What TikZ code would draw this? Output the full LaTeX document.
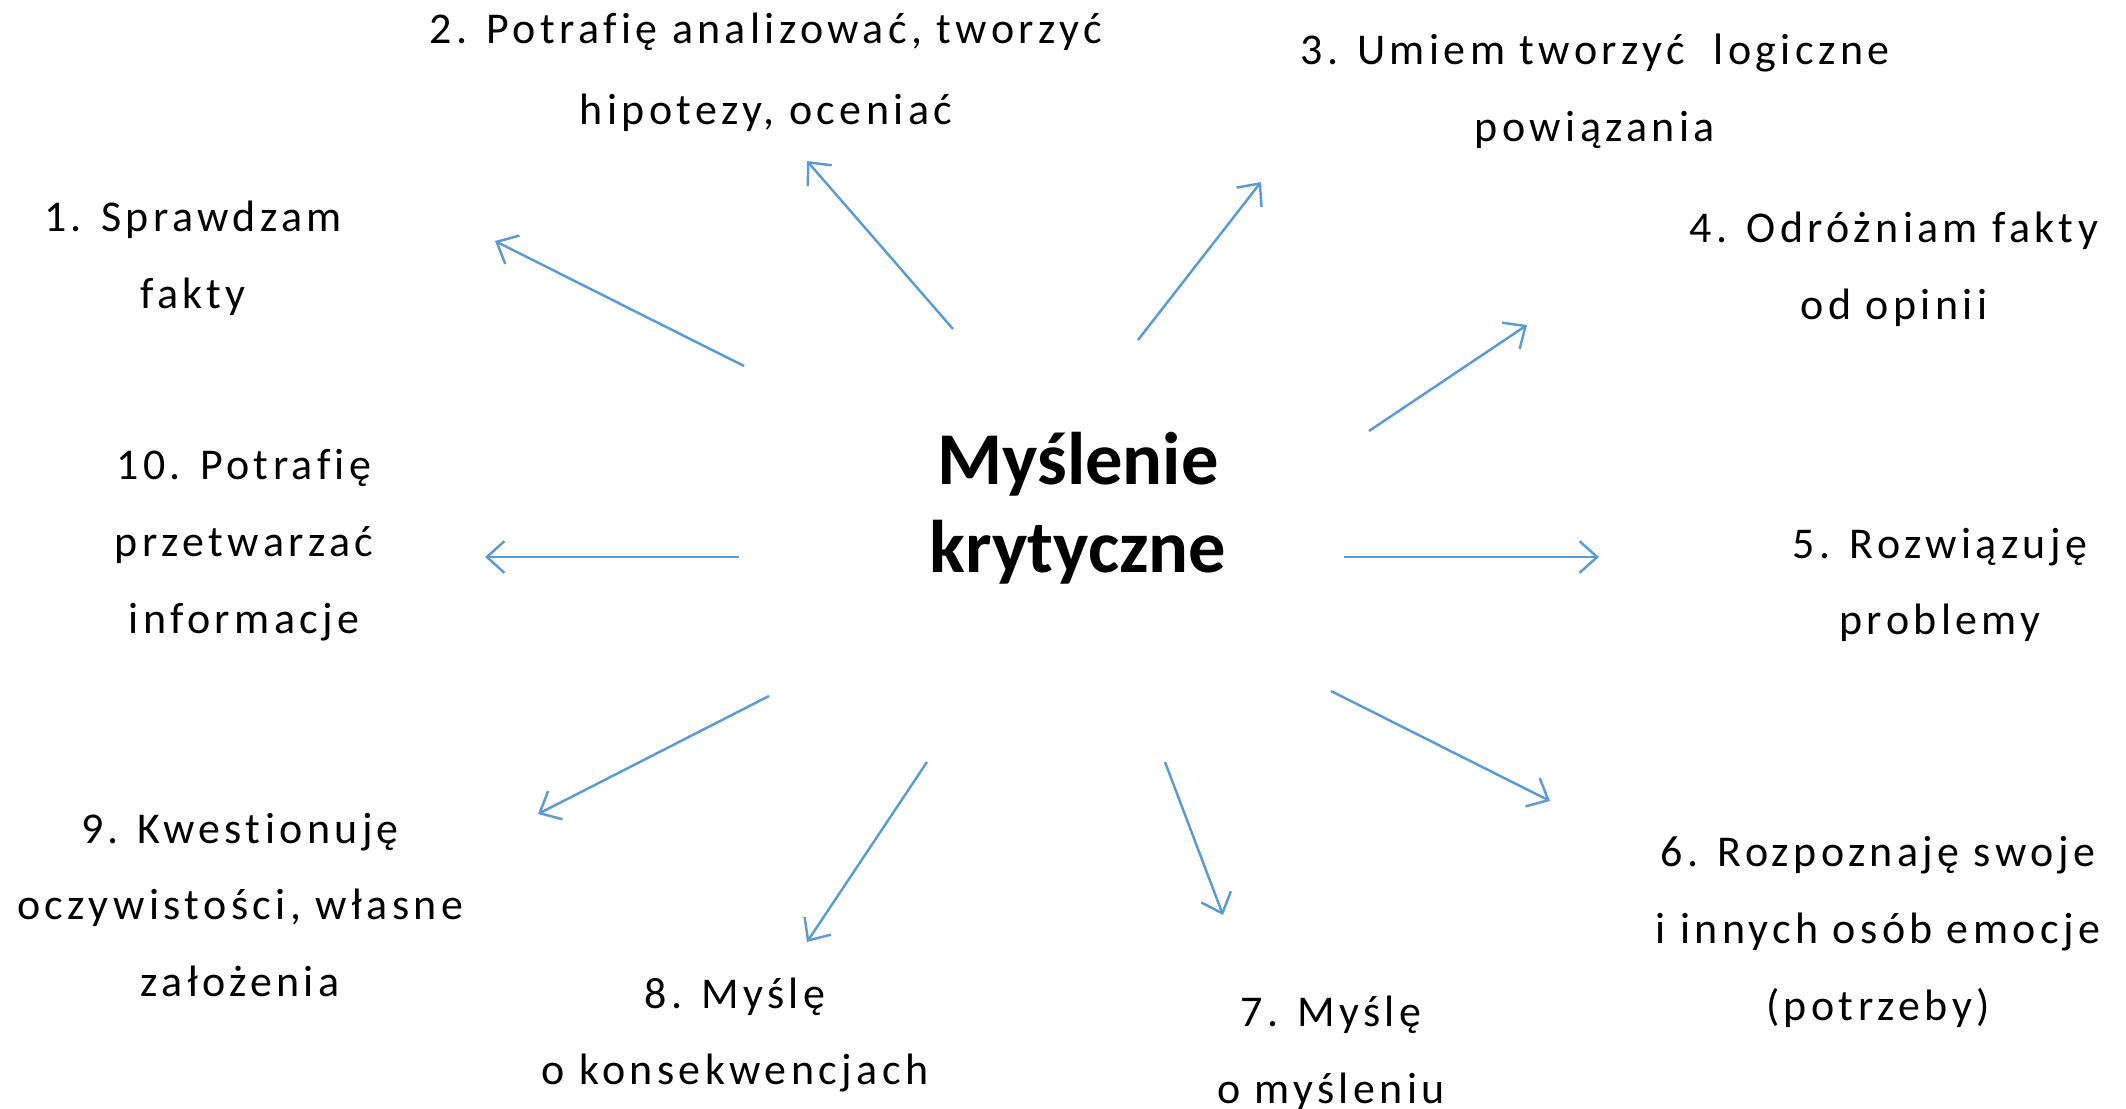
\documentclass[tikz,border=0pt]{standalone}
\usepackage{fontspec}
\setmainfont{Carlito}
\newfontfamily\skillfont[LetterSpace=10, Ligatures=CommonOff]{Carlito}
\usetikzlibrary{arrows.meta}
\definecolor{arrowblue}{RGB}{91,155,213}
\tikzset{
	point/.style={draw=arrowblue, line width=0.7pt, -{Straight Barb[length=5pt,width=9pt]}},
	skill/.style={align=center, inner sep=0pt, font=\skillfont\fontsize{12.5}{21.8}\selectfont},
	topic/.style={align=center, inner sep=0pt, font=\bfseries\fontsize{21.2}{25}\selectfont}
}

\begin{document}
\begin{tikzpicture}[x=0.01cm, y=-0.01cm]
			%%%%% START %%%%%
			
			\useasboundingbox (0, 0) rectangle (2126, 1109);
			
			\node[topic] (myslenie) at (1078, 508) {Myślenie\\krytyczne};
			
			\node[skill] (s1) at (193, 258) {1. Sprawdzam\\fakty};
			\node[skill] (s2) at (766, 72) {2. Potrafię analizować, tworzyć\\[1.2pt]hipotezy, oceniać};
			\node[skill] (s3) at (1595, 91) {3. Umiem tworzyć~~logiczne\\powiązania};
			\node[skill] (s4) at (1894, 269) {4. Odróżniam fakty\\od opinii};
			\node[skill] (s5) at (1940, 585) {5. Rozwiązuję\\problemy};
			\node[skill] (s6) at (1878, 932) {6. Rozpoznaję swoje\\i innych osób emocje\\(potrzeby)};
			\node[skill] (s7) at (1331, 1053) {7. Myślę\\o myśleniu};
			\node[skill] (s8) at (735, 1035) {8. Myślę\\o konsekwencjach};
			\node[skill] (s9) at (240, 905) {9. Kwestionuję\\oczywistości, własne\\założenia};
			\node[skill] (s10) at (244, 545) {10. Potrafię\\przetwarzać\\informacje};
			
			\coordinate (a1) at (744, 366);  \coordinate (b1) at (495, 241);
			\coordinate (a2) at (953, 329);  \coordinate (b2) at (807, 161);
			\coordinate (a3) at (1138, 340); \coordinate (b3) at (1261, 182);
			\coordinate (a4) at (1369, 431); \coordinate (b4) at (1527, 325);
			\coordinate (a5) at (1344, 557); \coordinate (b5) at (1599, 557);
			\coordinate (a6) at (1331, 691); \coordinate (b6) at (1550, 801);
			\coordinate (a7) at (1165, 762); \coordinate (b7) at (1223, 915);
			\coordinate (a8) at (927, 762);  \coordinate (b8) at (807, 942);
			\coordinate (a9) at (769, 696);  \coordinate (b9) at (538, 814);
			\coordinate (a10) at (739, 557); \coordinate (b10) at (485, 557);
			
			\foreach \i in {1,...,10}
				\draw[point] (a\i) -- (b\i);
			
			%%%%% END %%%%%
		\end{tikzpicture}
\end{document}
